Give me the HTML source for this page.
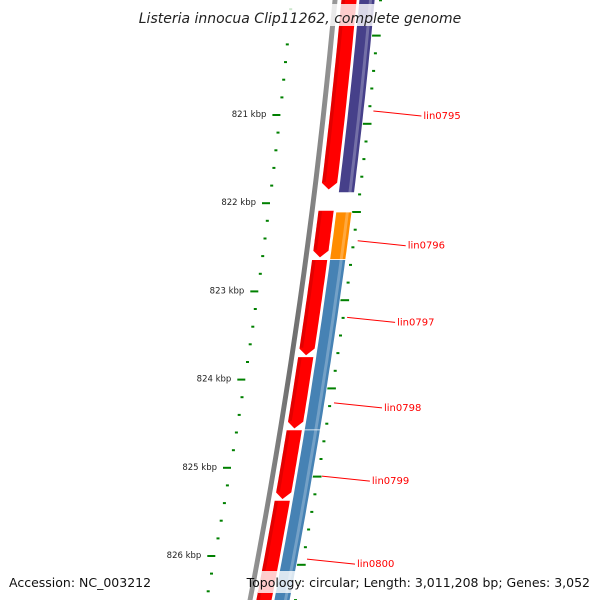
<!DOCTYPE html>
<html><head><meta charset="utf-8"><style>
html,body{margin:0;padding:0;background:#fff;}
svg{display:block;font-family:"DejaVu Sans","Liberation Sans",sans-serif;}
</style></head><body>
<svg id="map" width="600" height="600" viewBox="0 0 600 600" xmlns="http://www.w3.org/2000/svg">
<defs>
<linearGradient id="gGray" x1="0" x2="1" y1="0" y2="0"><stop offset="0" stop-color="#9a9a9a"/><stop offset="0.5" stop-color="#6e6e6e"/><stop offset="1" stop-color="#9a9a9a"/></linearGradient>
</defs>
<g id="layer"></g>
</svg>
<script>
// data (positions in kbp)
const fwdStarts = [819.5, 822.08, 822.64, 823.74, 824.57, 825.37];
const fwdEnds   = [821.85, 822.62, 823.73, 824.56, 825.36, 826.7];
const fwdNames  = ['lin0795','lin0796','lin0797','lin0798','lin0799','lin0800'];
const catStarts = [819.5, 822.1, 822.64, 824.57];
const catEnds   = [821.88, 822.64, 824.57, 826.7];
const catColors = ['#46408a', '#ff8c00', '#4682b4', '#4682b4'];
const labelKbp  = [821.0, 822.47, 823.34, 824.31, 825.14, 826.08];
const majorTicks = [821, 822, 823, 824, 825, 826];
const tickLabels = ['821 kbp','822 kbp','823 kbp','824 kbp','825 kbp','826 kbp'];

const NS='http://www.w3.org/2000/svg';
const layer=document.getElementById('layer');
function yOf(k){return 115+(k-821)*88.2;}
function xOf(y){return 335-0.0908*y-0.0000848*y*y;}
function mk(tag,attrs,parent){const e=document.createElementNS(NS,tag);for(const a in attrs)e.setAttribute(a,attrs[a]);(parent||layer).appendChild(e);return e;}
function band(y0,y1,o0,o1,arrow){
  let pts=[];const n=20;
  const yEnd=arrow?y1-7:y1;
  for(let i=0;i<=n;i++){const y=y0+(yEnd-y0)*i/n;pts.push([xOf(y)+o1,y]);}
  if(arrow){pts.push([xOf(y1)+(o0+o1)/2,y1]);}
  for(let i=n;i>=0;i--){const y=y0+(yEnd-y0)*i/n;pts.push([xOf(y)+o0,y]);}
  return 'M'+pts.map(p=>p[0].toFixed(1)+','+p[1].toFixed(1)).join('L')+'Z';
}
// backbone
let bb=mk('path',{d:band(-5,610,-2.5,2.5,false),fill:'url(#gGray)'});


// left ruler dots & ticks
for(let k=819.6;k<826.9;k+=0.2){
  const y=yOf(k);
  const major=Math.abs(k-Math.round(k))<0.01;
  if(major)continue;
  const d=mk('rect',{x:(xOf(y)-45).toFixed(1),y:(y-1).toFixed(1),width:3,height:2,fill:'#008000'});
  
  
}
majorTicks.forEach((k,i)=>{
  const y=yOf(k);const x=xOf(y);
  const t=mk('rect',{x:(x-51).toFixed(1),y:(y-1).toFixed(1),width:8,height:2,fill:'#008000'});
  
  
  const tx=mk('text',{x:(x-57).toFixed(1),y:(y+2).toFixed(1),'font-size':'8.5','text-anchor':'end',fill:'#222'});
  tx.textContent=tickLabels[i];
  
  
});
// right ruler
for(let k=819.7;k<826.9;k+=0.2){
  const y=yOf(k);
  const major=Math.abs((k-0.1)-Math.round(k-0.1))<0.01;
  const w=major?9:3;
  const d=mk('rect',{x:(xOf(y)+(major?40:44)).toFixed(1),y:(y-1).toFixed(1),width:w,height:2,fill:'#008000'});
  
  
}
// category track
catStarts.forEach((s,i)=>{
  const p=mk('path',{d:band(yOf(s),yOf(catEnds[i]),24,40,false),fill:catColors[i],stroke:'#fff','stroke-width':'0.8'});
  
  
  const h=mk('path',{d:band(yOf(s),yOf(catEnds[i]),34,37,false),fill:'#ffffff','fill-opacity':'0.25'});
  
  
});
// forward genes
fwdStarts.forEach((s,i)=>{
  const p=mk('path',{d:band(yOf(s),yOf(fwdEnds[i]),6,22,true),fill:'#ff0000',stroke:'#fff','stroke-width':'0.8'});
  
  
  const h=mk('path',{d:band(yOf(s)+1,yOf(fwdEnds[i])-8,6.5,10,false),fill:'#b00000','fill-opacity':'0.35'});
  
  
});
// labels
labelKbp.forEach((k,i)=>{
  const y=yOf(k);const x=xOf(y);
  const l=mk('line',{x1:(x+50).toFixed(1),y1:(y-4).toFixed(1),x2:(x+98).toFixed(1),y2:(y+1).toFixed(1),stroke:'#ff0000','stroke-width':'1'});
  
  
  const t=mk('text',{x:(x+100).toFixed(1),y:(y+4).toFixed(1),'font-size':'10',fill:'#ff0000'});
  t.textContent=fwdNames[i];
  
  
});
// title & footer overlays
const tb=mk('rect',{x:130,y:4,width:340,height:22,fill:'#fff','fill-opacity':'0.8'});


const title=mk('text',{x:300,y:23,'font-size':'14','font-style':'italic','text-anchor':'middle',fill:'#222'});
title.textContent='Listeria innocua Clip11262, complete genome';


const fb=mk('rect',{x:258,y:571,width:336,height:22,fill:'#fff','fill-opacity':'0.8'});


const acc=mk('text',{x:9,y:587,'font-size':'12.5',fill:'#111'});
acc.textContent='Accession: NC_003212';


const topo=mk('text',{x:590,y:587,'font-size':'12.5','text-anchor':'end',fill:'#111'});
topo.textContent='Topology: circular; Length: 3,011,208 bp; Genes: 3,052';


</script>
</body></html>
